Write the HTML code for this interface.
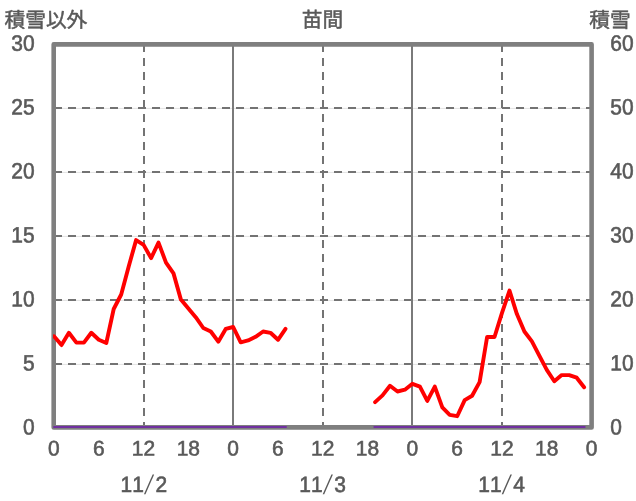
<!DOCTYPE html>
<html lang="ja"><head><meta charset="utf-8"><title>苗間</title>
<style>
html,body{margin:0;padding:0;background:#fff;}
svg{display:block;}
text{fill:#595959;font-kerning:none;text-rendering:geometricPrecision;}
.sl{font-family:"Liberation Sans",sans-serif;font-size:19.5px;}
.num{font-family:"Liberation Sans","Noto Sans CJK JP",sans-serif;font-size:21.6px;stroke:#595959;stroke-width:0.6px;}
.jp{font-family:"Liberation Sans","Noto Sans CJK JP",sans-serif;font-size:20.7px;stroke:#595959;stroke-width:0.5px;}
.dash{stroke:#737373;stroke-width:2;stroke-dasharray:8 6;fill:none;}
.faint{stroke:#e2e2e2;stroke-width:1;fill:none;}
.solid{stroke:#7a7a7a;stroke-width:2;fill:none;}
.border{stroke:#7f7f7f;stroke-width:4.6;fill:none;stroke-linejoin:round;}
.purple{stroke:#7030a0;stroke-width:2;fill:none;stroke-linecap:round;}
.red{stroke:#ff0000;stroke-width:3.9;fill:none;stroke-linejoin:round;stroke-linecap:round;}
</style></head><body>
<svg width="636" height="501" viewBox="0 0 636 501">
<line x1="54" x2="591.6" y1="364.4" y2="364.4" class="faint"/>
<line x1="54" x2="591.6" y1="364" y2="364" class="dash"/>
<line x1="54" x2="591.6" y1="300.4" y2="300.4" class="faint"/>
<line x1="54" x2="591.6" y1="300" y2="300" class="dash"/>
<line x1="54" x2="591.6" y1="236.4" y2="236.4" class="faint"/>
<line x1="54" x2="591.6" y1="236" y2="236" class="dash"/>
<line x1="54" x2="591.6" y1="172.4" y2="172.4" class="faint"/>
<line x1="54" x2="591.6" y1="172" y2="172" class="dash"/>
<line x1="54" x2="591.6" y1="108.4" y2="108.4" class="faint"/>
<line x1="54" x2="591.6" y1="108" y2="108" class="dash"/>
<line y1="44" y2="427.4" x1="144" x2="144" class="dash"/>
<line y1="44" y2="427.4" x1="323" x2="323" class="dash"/>
<line y1="44" y2="427.4" x1="502" x2="502" class="dash"/>
<line y1="44.4" y2="427.4" x1="233" x2="233" class="solid"/>
<line y1="44.4" y2="427.4" x1="412" x2="412" class="solid"/>
<rect x="53.7" y="44.4" width="537.90" height="383.00" class="border"/>
<line x1="54" x2="286.0" y1="427.05" y2="427.05" class="purple"/>
<line x1="374.3" x2="584.7" y1="427.05" y2="427.05" class="purple"/>
<clipPath id="cp"><rect x="53.1" y="0" width="600" height="501"/></clipPath>
<polyline points="54.0,336.2 61.5,345.1 68.9,332.8 76.4,342.6 83.9,342.6 91.3,332.8 98.8,339.8 106.3,343.0 113.7,309.0 121.2,294.5 128.7,266.4 136.1,240.1 143.6,244.9 151.1,258.1 158.5,242.6 166.0,262.6 173.5,273.4 180.9,299.6 188.4,308.5 195.9,317.4 203.3,328.0 210.8,331.5 218.3,341.7 225.7,328.9 233.2,327.0 240.7,342.3 248.1,340.4 255.6,336.8 263.1,331.5 270.5,332.8 278.0,339.8 285.5,328.9" class="red" clip-path="url(#cp)"/>
<polyline points="375.1,402.1 382.5,395.4 390.0,385.8 397.5,391.5 404.9,389.7 412.4,383.8 419.9,386.6 427.3,400.9 434.8,386.6 442.3,407.3 449.7,414.8 457.2,416.2 464.7,400.1 472.1,395.8 479.6,382.1 487.1,337.0 494.5,337.0 502.0,312.8 509.5,290.6 516.9,314.1 524.4,331.5 531.9,341.4 539.3,355.7 546.8,369.9 554.3,381.3 561.7,375.1 569.2,375.1 576.7,377.7 584.1,387.3" class="red"/>
<text transform="translate(34.6,434.5) rotate(0.03) scale(0.97,1.03)" text-anchor="end" class="num">0</text>
<text transform="translate(610.3,434.5) rotate(0.03) scale(0.97,1.03)" text-anchor="start" class="num">0</text>
<text transform="translate(34.6,370.5) rotate(0.03) scale(0.97,1.03)" text-anchor="end" class="num">5</text>
<text transform="translate(610.3,370.5) rotate(0.03) scale(0.97,1.03)" text-anchor="start" class="num">10</text>
<text transform="translate(34.6,306.6) rotate(0.03) scale(0.97,1.03)" text-anchor="end" class="num">10</text>
<text transform="translate(610.3,306.6) rotate(0.03) scale(0.97,1.03)" text-anchor="start" class="num">20</text>
<text transform="translate(34.6,242.6) rotate(0.03) scale(0.97,1.03)" text-anchor="end" class="num">15</text>
<text transform="translate(610.3,242.6) rotate(0.03) scale(0.97,1.03)" text-anchor="start" class="num">30</text>
<text transform="translate(34.6,178.6) rotate(0.03) scale(0.97,1.03)" text-anchor="end" class="num">20</text>
<text transform="translate(610.3,178.6) rotate(0.03) scale(0.97,1.03)" text-anchor="start" class="num">40</text>
<text transform="translate(34.6,114.6) rotate(0.03) scale(0.97,1.03)" text-anchor="end" class="num">25</text>
<text transform="translate(610.3,114.6) rotate(0.03) scale(0.97,1.03)" text-anchor="start" class="num">50</text>
<text transform="translate(34.6,50.7) rotate(0.03) scale(0.97,1.03)" text-anchor="end" class="num">30</text>
<text transform="translate(610.3,50.7) rotate(0.03) scale(0.97,1.03)" text-anchor="start" class="num">60</text>
<text transform="translate(53.9,455.6) rotate(0.03) scale(0.97,0.98)" text-anchor="middle" class="num">0</text>
<text transform="translate(98.7,455.6) rotate(0.03) scale(0.97,0.98)" text-anchor="middle" class="num">6</text>
<text transform="translate(143.5,455.6) rotate(0.03) scale(0.97,0.98)" text-anchor="middle" class="num">12</text>
<text transform="translate(188.3,455.6) rotate(0.03) scale(0.97,0.98)" text-anchor="middle" class="num">18</text>
<text transform="translate(233.1,455.6) rotate(0.03) scale(0.97,0.98)" text-anchor="middle" class="num">0</text>
<text transform="translate(277.9,455.6) rotate(0.03) scale(0.97,0.98)" text-anchor="middle" class="num">6</text>
<text transform="translate(322.7,455.6) rotate(0.03) scale(0.97,0.98)" text-anchor="middle" class="num">12</text>
<text transform="translate(367.5,455.6) rotate(0.03) scale(0.97,0.98)" text-anchor="middle" class="num">18</text>
<text transform="translate(412.3,455.6) rotate(0.03) scale(0.97,0.98)" text-anchor="middle" class="num">0</text>
<text transform="translate(457.1,455.6) rotate(0.03) scale(0.97,0.98)" text-anchor="middle" class="num">6</text>
<text transform="translate(501.9,455.6) rotate(0.03) scale(0.97,0.98)" text-anchor="middle" class="num">12</text>
<text transform="translate(546.7,455.6) rotate(0.03) scale(0.97,0.98)" text-anchor="middle" class="num">18</text>
<text transform="translate(591.5,455.6) rotate(0.03) scale(0.97,0.98)" text-anchor="middle" class="num">0</text>
<text transform="translate(143.4,491.9) rotate(0.03) scale(0.97,1.03)" class="num"><tspan x="-23.6">1</tspan><tspan x="-11.5">1</tspan><tspan x="12.5">2</tspan></text>
<text transform="translate(144.0,493.6) skewX(-13.6) scale(1,1.38)" class="sl">/</text>
<text transform="translate(322.2,491.9) rotate(0.03) scale(0.97,1.03)" class="num"><tspan x="-23.6">1</tspan><tspan x="-11.5">1</tspan><tspan x="12.5">3</tspan></text>
<text transform="translate(322.8,493.6) skewX(-13.6) scale(1,1.38)" class="sl">/</text>
<text transform="translate(501.1,491.9) rotate(0.03) scale(0.97,1.03)" class="num"><tspan x="-23.6">1</tspan><tspan x="-11.5">1</tspan><tspan x="12.5">4</tspan></text>
<text transform="translate(501.7,493.6) skewX(-13.6) scale(1,1.38)" class="sl">/</text>
<text transform="translate(4.5,27.2) rotate(0.03)" class="jp">積雪以外</text>
<text transform="translate(322.4,27.1) rotate(0.03)" text-anchor="middle" class="jp">苗間</text>
<text transform="translate(630.6,27.25) rotate(0.03)" text-anchor="end" class="jp">積雪</text>
</svg>
</body></html>
